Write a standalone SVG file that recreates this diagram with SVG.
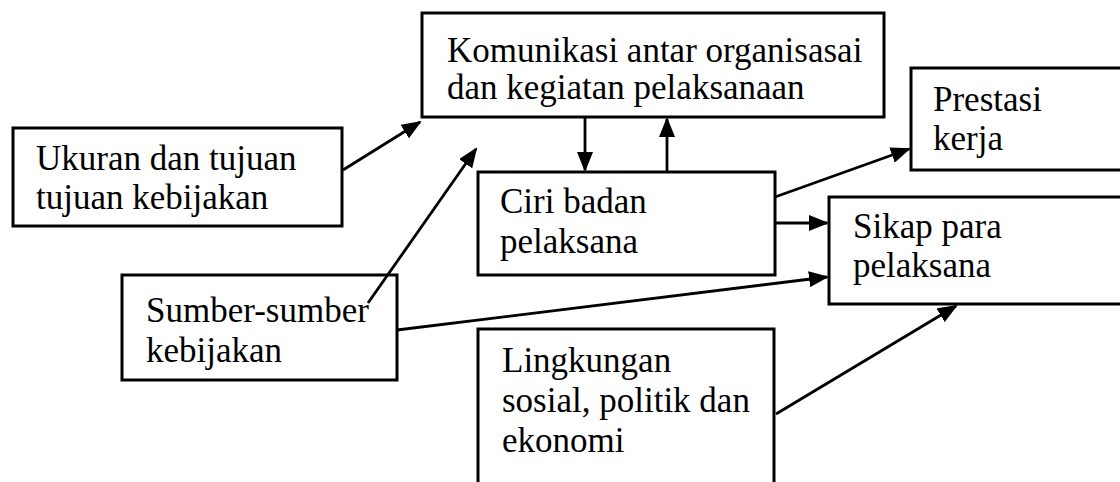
<svg xmlns="http://www.w3.org/2000/svg" width="1120" height="482" viewBox="0 0 1120 482">
<defs>
<marker id="ah" markerUnits="userSpaceOnUse" markerWidth="20" markerHeight="16" viewBox="0 0 20 16" refX="18" refY="8" orient="auto">
<path d="M0,0 L20,8 L0,16 z" fill="#000"/>
</marker>
<style>
.box{fill:#fff;stroke:#000;stroke-width:3}
.t{font-family:"Liberation Serif","Times New Roman",serif;font-size:35px;fill:#000}
.c{stroke:#000;stroke-width:2.8;fill:none;marker-end:url(#ah)}
</style>
</defs>
<rect width="1120" height="482" fill="#fff"/>
<g id="komunikasi">
<rect class="box" x="422" y="13" width="462" height="104"/>
<text class="t" x="447" y="62">Komunikasi antar organisasai</text>
<text class="t" x="447" y="99">dan kegiatan pelaksanaan</text>
</g>
<g id="ukuran">
<rect class="box" x="13" y="128" width="329" height="98"/>
<text class="t" x="36" y="170">Ukuran dan tujuan</text>
<text class="t" x="36" y="209">tujuan kebijakan</text>
</g>
<g id="prestasi">
<rect class="box" x="911" y="68" width="230" height="102"/>
<text class="t" x="933" y="111">Prestasi</text>
<text class="t" x="933" y="150">kerja</text>
</g>
<g id="ciri">
<rect class="box" x="478" y="172" width="297" height="103"/>
<text class="t" x="500" y="213">Ciri badan</text>
<text class="t" x="500" y="253">pelaksana</text>
</g>
<g id="sikap">
<rect class="box" x="829" y="197" width="312" height="107"/>
<text class="t" x="853" y="238">Sikap para</text>
<text class="t" x="853" y="277">pelaksana</text>
</g>
<g id="sumber">
<rect class="box" x="122" y="275" width="275" height="105"/>
<text class="t" x="146" y="322">Sumber-sumber</text>
<text class="t" x="146" y="362">kebijakan</text>
</g>
<g id="lingkungan">
<path class="box" d="M478,490 V329 H774 V490"/>
<text class="t" x="502" y="372">Lingkungan</text>
<text class="t" x="502" y="412">sosial, politik dan</text>
<text class="t" x="502" y="452">ekonomi</text>
</g>
<g id="connectors">
<line class="c" x1="343" y1="170" x2="420" y2="122"/>
<line class="c" x1="368" y1="303" x2="476" y2="149"/>
<line class="c" x1="585" y1="117" x2="585" y2="170"/>
<line class="c" x1="667" y1="172" x2="667" y2="119"/>
<line class="c" x1="775" y1="197" x2="909" y2="149"/>
<line class="c" x1="775" y1="223" x2="827" y2="223"/>
<line class="c" x1="397" y1="330" x2="827" y2="277"/>
<line class="c" x1="776" y1="414" x2="956" y2="306"/>
</g>
</svg>
